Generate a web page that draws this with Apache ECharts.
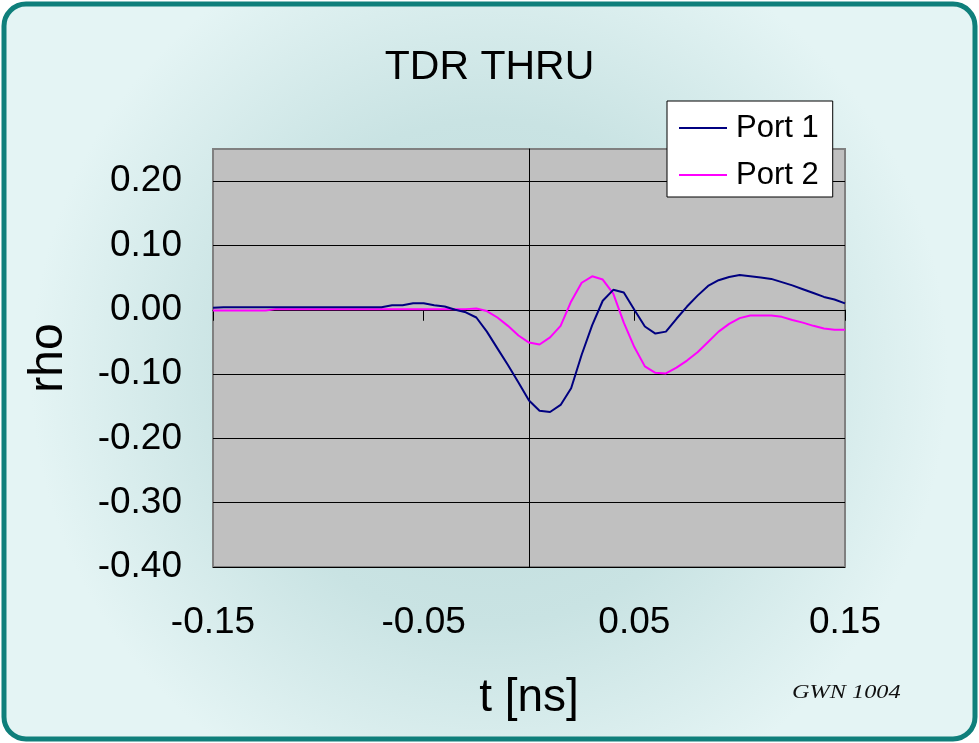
<!DOCTYPE html>
<html>
<head>
<meta charset="utf-8">
<script src="https://cdn.jsdelivr.net/npm/echarts@6/dist/echarts.min.js"></script>
<style>
html,body{margin:0;padding:0;background:#ffffff;}
#chart{width:979px;height:743px;}
</style>
</head>
<body>
<div id="chart"></div>
<script>
// time axis samples [ns]
const tValues = [-0.150,-0.145,-0.140,-0.135,-0.130,-0.125,-0.120,-0.115,-0.110,-0.105,-0.100,-0.095,-0.090,-0.085,-0.080,-0.075,-0.070,-0.065,-0.060,-0.055,-0.050,-0.045,-0.040,-0.035,-0.030,-0.025,-0.020,-0.015,-0.010,-0.005,0.000,0.005,0.010,0.015,0.020,0.025,0.030,0.035,0.040,0.045,0.050,0.055,0.060,0.065,0.070,0.075,0.080,0.085,0.090,0.095,0.100,0.105,0.110,0.115,0.120,0.125,0.130,0.135,0.140,0.145,0.150];
const port1 = [0.003,0.004,0.004,0.004,0.004,0.004,0.004,0.004,0.004,0.004,0.004,0.004,0.004,0.004,0.004,0.004,0.004,0.007,0.007,0.010,0.010,0.007,0.005,0.000,-0.004,-0.012,-0.034,-0.060,-0.086,-0.113,-0.141,-0.157,-0.159,-0.148,-0.122,-0.070,-0.024,0.014,0.031,0.027,0.000,-0.026,-0.037,-0.034,-0.014,0.005,0.022,0.037,0.046,0.051,0.054,0.052,0.050,0.048,0.043,0.038,0.032,0.026,0.020,0.016,0.010];
const port2 = [-0.001,-0.001,-0.001,-0.001,-0.001,-0.001,0.001,0.001,0.001,0.001,0.001,0.001,0.001,0.001,0.001,0.001,0.001,0.001,0.001,0.001,0.001,0.001,0.001,0.001,0.001,0.002,-0.002,-0.012,-0.025,-0.040,-0.051,-0.054,-0.043,-0.025,0.013,0.042,0.052,0.047,0.025,-0.020,-0.058,-0.088,-0.098,-0.099,-0.090,-0.079,-0.066,-0.050,-0.034,-0.022,-0.013,-0.009,-0.009,-0.009,-0.011,-0.016,-0.020,-0.025,-0.029,-0.031,-0.031];
const seriesNames = ['Port 1', 'Port 2'];
const xTickLabels = [-0.15, -0.05, 0.05, 0.15];
const yTickValues = [-0.4, -0.3, -0.2, -0.1, 0.0, 0.1, 0.2];

const FONT = "'Liberation Sans', Arial, sans-serif";
const chart = echarts.init(document.getElementById('chart'), null, {renderer: 'canvas'});

const pairs = (vals) => tValues.map((t, i) => [t, vals[i]]);

const option = {
  animation: false,
  backgroundColor: 'transparent',
  graphic: [
    {
      type: 'rect', z: -100,
      shape: {x: 4, y: 4, width: 971, height: 735, r: 22},
      style: {
        fill: new echarts.graphic.RadialGradient(0.5, 0.5, 0.62, [
          {offset: 0, color: '#bfdbdb'},
          {offset: 0.55, color: '#c9e3e3'},
          {offset: 1, color: '#e4f4f4'}
        ]),
        stroke: '#0f7f7b', lineWidth: 5
      }
    },
    {
      type: 'text', z: 10, left: 792, top: 684, scaleX: 1.35, originX: 792,
      style: {text: 'GWN 1004', font: "italic 18px 'Liberation Serif', 'DejaVu Serif', serif", fill: '#111111'}
    }
  ],
  title: {
    text: 'TDR THRU', left: 'center', top: 42,
    textStyle: {fontFamily: FONT, fontSize: 41, fontWeight: 'normal', color: '#000000'}
  },
  legend: {
    data: seriesNames,
    orient: 'vertical',
    left: 667, top: 101,
    padding: [10, 14, 5, 12],
    itemGap: 13,
    backgroundColor: '#ffffff',
    borderColor: '#000000', borderWidth: 1,
    icon: 'rect', itemWidth: 48, itemHeight: 2,
    textStyle: {fontFamily: FONT, fontSize: 31, color: '#000000', lineHeight: 34, padding: [0, 0, 0, 4]}
  },
  grid: {
    left: 213, top: 149, right: 134, bottom: 176,
    show: true, backgroundColor: '#c0c0c0', borderColor: '#808080', borderWidth: 2
  },
  xAxis: [
    {
      type: 'value', min: -0.15, max: 0.15, interval: 0.05, position: 'bottom',
      axisLine: {show: true, onZero: true, lineStyle: {color: '#000000', width: 1}},
      axisTick: {show: true, inside: false, length: 11, customValues: xTickLabels, lineStyle: {color: '#000000'}},
      axisLabel: {show: false},
      splitLine: {show: false}
    },
    {
      type: 'value', min: -0.15, max: 0.15, interval: 0.05, position: 'bottom',
      name: 't [ns]', nameLocation: 'middle', nameGap: 108,
      nameTextStyle: {fontFamily: FONT, fontSize: 46, color: '#000000'},
      axisLine: {show: false, onZero: false},
      axisTick: {show: false},
      axisLabel: {show: true, margin: 37, customValues: xTickLabels,
        fontFamily: FONT, fontSize: 37, color: '#000000',
        formatter: (v) => v.toFixed(2)},
      splitLine: {show: false}
    }
  ],
  yAxis: [
    {
      type: 'value', min: -0.4, max: 0.25, interval: 0.1, position: 'left',
      axisLine: {show: true, onZero: true, lineStyle: {color: '#000000', width: 1}},
      axisTick: {show: true, inside: false, length: 12, customValues: yTickValues, lineStyle: {color: '#000000'}},
      axisLabel: {show: false},
      splitLine: {show: true, showMinLine: true, showMaxLine: true, lineStyle: {color: '#000000', width: 1}}
    },
    {
      type: 'value', min: -0.4, max: 0.25, interval: 0.1, position: 'left',
      name: 'rho', nameLocation: 'middle', nameGap: 140, nameRotate: 90,
      nameTextStyle: {fontFamily: FONT, fontSize: 48, color: '#000000'},
      axisLine: {show: false, onZero: false},
      axisTick: {show: false},
      axisLabel: {show: true, margin: 31, customValues: yTickValues,
        fontFamily: FONT, fontSize: 37, color: '#000000',
        formatter: (v) => v.toFixed(2)},
      splitLine: {show: false}
    }
  ],
  series: [
    {
      name: seriesNames[0], type: 'line', xAxisIndex: 0, yAxisIndex: 0,
      data: pairs(port1), showSymbol: false, symbol: 'none',
      lineStyle: {color: '#000080', width: 2}, itemStyle: {color: '#000080'}, z: 5
    },
    {
      name: seriesNames[1], type: 'line', xAxisIndex: 0, yAxisIndex: 0,
      data: pairs(port2), showSymbol: false, symbol: 'none',
      lineStyle: {color: '#ff00ff', width: 2}, itemStyle: {color: '#ff00ff'}, z: 4
    }
  ]
};
chart.setOption(option);
</script>
</body>
</html>
